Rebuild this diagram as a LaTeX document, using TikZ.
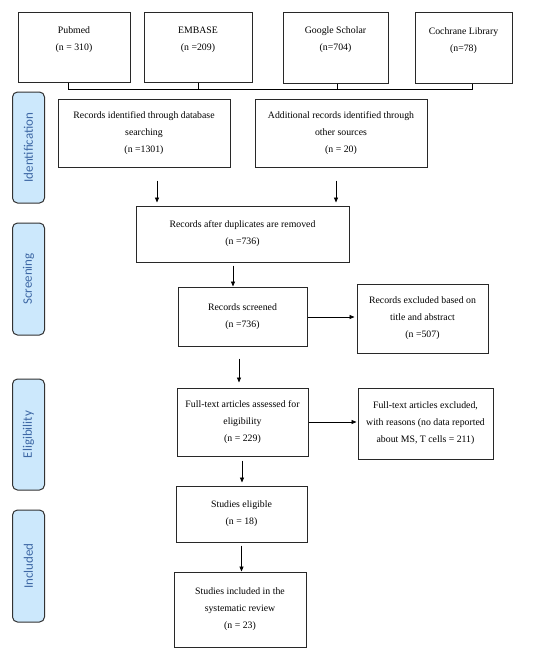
\documentclass[tikz,border=0pt]{standalone}
\usepackage{fontspec}
\setmainfont{Liberation Serif}
\newfontfamily\labfont{Carlito}
\usetikzlibrary{arrows.meta}
\definecolor{labfill}{RGB}{204,232,252}
\definecolor{labtext}{RGB}{62,104,165}
\definecolor{labdraw}{RGB}{50,50,50}
\definecolor{boxdraw}{RGB}{40,40,40}
\begin{document}
\begin{tikzpicture}[x=1pt,y=-1pt,
  box/.style={draw=boxdraw, line width=1pt, inner sep=0pt, align=center,
    font=\fontsize{9.8}{17}\selectfont},
  lab/.style={draw=labdraw, line width=1pt, fill=labfill, rounded corners=5pt,
    minimum height=32pt, inner sep=0pt, text=labtext, rotate=90,
    font=\labfont\fontsize{13}{15}\selectfont},
  arr/.style={-{Triangle[length=5pt,width=4pt]}, line width=0.8pt, black},
  ln/.style={line width=0.8pt, black}]
\useasboundingbox (0,0) rectangle (550,657);
\fill[white] (0,0) rectangle (550,657);

% top sources
\node[box, minimum width=112pt, minimum height=70pt] (pub) at (74,47) {Pubmed\\(n = 310)\\\mbox{}};
\node[box, minimum width=108pt, minimum height=70pt] (emb) at (198,47) {EMBASE\\(n =209)\\\mbox{}};
\node[box, minimum width=105pt, minimum height=71pt] (gs) at (335.5,47.5) {Google Scholar\\(n=704)\\\mbox{}};
\node[box, minimum width=97pt, minimum height=71pt] (coc) at (463.5,48) {Cochrane Library\\(n=78)\\\mbox{}};

\coordinate (brk) at (0,89);
\draw[ln] ([xshift=-6pt]pub.south) -- ([xshift=-6pt]pub.south |- brk)
  -- ([xshift=8.5pt]coc.south |- brk) -- ([xshift=8.5pt]coc.south);
\draw[ln] (emb.south) -- (emb.south |- brk);
\draw[ln] ([xshift=1.5pt]gs.south) -- ([xshift=1.5pt]gs.south |- brk);

% phase labels
\node[lab, minimum width=111pt] (lid) at (28.5,147.5) {Identification};
\node[lab, minimum width=112pt] (lsc) at (28.5,279) {Screening};
\node[lab, minimum width=111pt] (lel) at (28.5,434.5) {Eligibility};
\node[lab, minimum width=112pt] (lin) at (28.5,566) {Included};

% flow boxes
\node[box, minimum width=172pt, minimum height=68pt] (ida) at (144,133)
  {Records identified through database\\searching\\(n =1301)};
\node[box, minimum width=172pt, minimum height=68pt] (idb) at (341,133)
  {Additional records identified through\\other sources\\(n = 20)};
\node[box, minimum width=213pt, minimum height=56pt] (dup) at (242.5,234)
  {Records after duplicates are removed\\(n =736)};
\node[box, minimum width=129pt, minimum height=59pt] (scr) at (242.5,316.5)
  {Records screened\\(n =736)};
\node[box, minimum width=131pt, minimum height=69pt] (exc) at (422.5,318.5)
  {Records excluded based on\\title and abstract\\(n =507)};
\node[box, minimum width=131pt, minimum height=68pt] (ful) at (242.5,422)
  {Full-text articles assessed for\\eligibility\\(n = 229)};
\node[box, minimum width=135pt, minimum height=71pt] (ex2) at (425.5,423.5)
  {Full-text articles excluded,\\with reasons (no data reported\\about MS, T cells = 211)};
\node[box, minimum width=131pt, minimum height=56pt] (eli) at (241.5,514)
  {Studies eligible\\(n = 18)};
\node[box, minimum width=132pt, minimum height=75pt] (inc) at (240,609.5)
  {Studies included in the\\systematic review\\(n = 23)};

% connectors
\draw[arr, shorten <=13pt, shorten >=3pt] ([xshift=13pt]ida.south) -- ([xshift=13pt]ida.south |- dup.north);
\draw[arr, shorten <=13pt, shorten >=3pt] ([xshift=-5pt]idb.south) -- ([xshift=-5pt]idb.south |- dup.north);
\draw[arr, shorten <=3pt] ([xshift=-9.5pt]dup.south) -- ([xshift=-9.5pt]dup.south |- scr.north);
\draw[arr, shorten <=12pt, shorten >=5pt] ([xshift=-3.5pt]scr.south) -- ([xshift=-3.5pt]scr.south |- ful.north);
\draw[arr, shorten >=2pt] ([yshift=-0.5pt]scr.east) -- ([yshift=-0.5pt]scr.east -| exc.west);
\draw[arr, shorten >=1pt] (ful.east) -- (ful.east -| ex2.west);
\draw[arr, shorten <=4pt, shorten >=3pt] ([xshift=-0.5pt]ful.south) -- ([xshift=-0.5pt]ful.south |- eli.north);
\draw[arr, shorten <=3pt] (eli.south) -- (eli.south |- inc.north);
\end{tikzpicture}
\end{document}
